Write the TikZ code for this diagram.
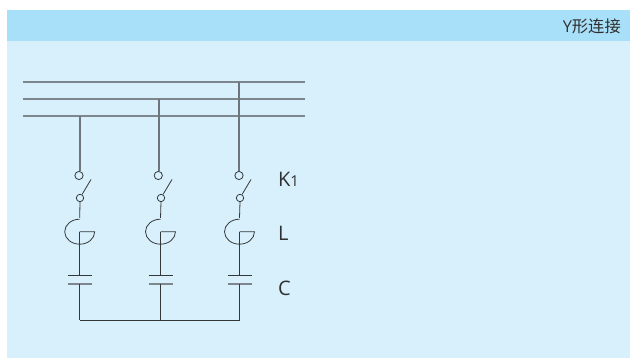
\documentclass[tikz,border=0pt]{standalone}
\usepackage{fontspec}
\setmainfont{Open Sans}
\newfontfamily\cjkf{Noto Sans CJK SC}
\definecolor{headblue}{HTML}{A8DFF9}
\definecolor{bodyblue}{HTML}{D8F0FB}
\definecolor{busgray}{HTML}{7C868C}
\definecolor{upgray}{HTML}{6C767C}
\definecolor{darkline}{HTML}{34383B}
\definecolor{txt}{HTML}{303030}
\tikzset{
  busline/.style={draw=busgray,line width=1.1pt},
  wire/.style={draw=darkline,line width=0.8pt},
  upwire/.style={draw=upgray,line width=1.2pt},
  contactA/.style={circle,draw=darkline,line width=0.8pt,minimum size=8.2pt,inner sep=0pt},
  contactB/.style={circle,draw=darkline,line width=0.8pt,minimum size=7.4pt,inner sep=0pt},
  plateup/.style={draw=darkline,line width=0.8pt},
  platelow/.style={draw=busgray,line width=1.2pt},
  lab/.style={text=txt,font=\fontsize{20}{23}\selectfont,inner sep=0pt,anchor=base west}
}
\begin{document}
\begin{tikzpicture}[x=1pt,y=-1pt]
\useasboundingbox (0,0) rectangle (630,358);
\fill[bodyblue] (7,10) rectangle (630,358);
\fill[headblue] (7,10) rectangle (630,41);
\node[anchor=east,inner sep=0pt,text=txt,font=\fontsize{16.3}{18}\selectfont] (title) at (621,26) {Y{\cjkf 形连接}};
% bus bars
\coordinate (b1l) at (23,82); \coordinate (b1r) at (305,82);
\coordinate (b2l) at (23,99); \coordinate (b2r) at (305,99);
\coordinate (b3l) at (23,116); \coordinate (b3r) at (305,116);
\draw[busline] (b1l) -- (b1r);
\draw[busline] (b2l) -- (b2r);
\draw[busline] (b3l) -- (b3r);
% columns: name / tap x / upper contact x / stem x / lower contact x / bus tap y
\foreach \n/\tx/\ux/\sx/\lx/\ty in {a/79.9/79/79.7/80/116, b/158.9/158.3/160.5/161/99, c/238.9/239/239.5/240/82}{
  \coordinate (tap\n) at (\tx,\ty);
  \node[contactA] (up\n) at (\ux,175.5) {};
  \node[contactB] (lo\n) at (\lx,198) {};
  \coordinate (blade\n) at (\lx+11,179.5);
  \coordinate (gtop\n) at (\sx,218);
  \coordinate (gmid\n) at (\sx,231.7);
  \coordinate (gend\n) at (\sx+15,231.7);
  \coordinate (p1\n) at (\sx,275.3);
  \coordinate (p2\n) at (\sx,284);
  \coordinate (p1l\n) at (\sx-11.7,275.3);
  \coordinate (p1r\n) at (\sx+12.7,275.3);
  \coordinate (p2l\n) at (\sx-11.7,284);
  \coordinate (p2r\n) at (\sx+12.7,284);
  \coordinate (bot\n) at (\sx,320.5);
  \draw[upwire] (tap\n) -- (tap\n |- up\n.north);
  \draw[wire] (lo\n.60) -- (blade\n);
  \draw[wire] (lo\n.south) -- (gtop\n);
  \draw[wire] (gtop\n) ++(0,1.2) arc[start angle=270,end angle=0,x radius=15,y radius=12.5] -- (gmid\n);
  \draw[wire] (gmid\n) -- (p1\n);
  \draw[plateup] (p1l\n) -- (p1r\n);
  \draw[platelow] (p2l\n) -- (p2r\n);
  \draw[wire] (p2\n) -- (bot\n);
}
\draw[wire] (bota) -- (botc);
\node[lab] (k) at (278,187) {K{\fontsize{15}{17}\selectfont 1}};
\node[lab] (l) at (278,241) {L};
\node[lab] (c) at (278,296) {C};
\end{tikzpicture}
\end{document}
